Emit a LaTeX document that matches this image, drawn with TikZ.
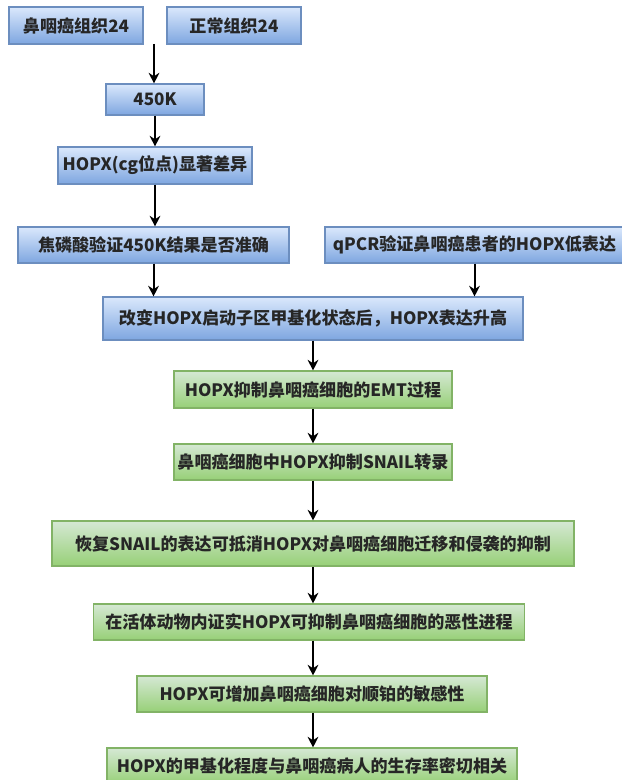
\documentclass[tikz,border=0pt]{standalone}
\usepackage{fontspec}
\setmainfont{Noto Sans CJK SC}
\usepackage{xcolor}
\usepackage{tikz}
\usetikzlibrary{positioning}
\usetikzlibrary{arrows.meta}
\definecolor{bluetop}{HTML}{DAE8FC}
\definecolor{bluebot}{HTML}{7EA6E0}
\definecolor{blueline}{HTML}{6C8EBF}
\definecolor{greentop}{HTML}{D5E8D4}
\definecolor{greenbot}{HTML}{97D077}
\definecolor{greenline}{HTML}{82B366}
\tikzset{
	box/.style={
			inner sep=0pt,
			line width=0.8pt,
			text=black!85,
			font=\fontsize{12.8}{14}\selectfont\bfseries
		},
	bluebox/.style={box,
			draw=blueline,
			top color=bluetop,
			bottom color=bluebot
		},
	greenbox/.style={box,
			draw=greenline,
			top color=greentop,
			bottom color=greenbot
		},
	flow/.style={-{Stealth[length=8pt,width=8pt]}, line width=1.5pt}
}

\begin{document}
\begin{tikzpicture}[x=0.75pt, y=-0.75pt]
		\useasboundingbox (0,0) rectangle (621,780);

		% Samples
		\node[bluebox,
			minimum width=100.5pt,
			minimum height=27.75pt
		] (tumor) at (76,25.5) {鼻咽癌组织24};

		\node[bluebox,
			minimum width=100.5pt,
			minimum height=27.75pt
		] (normal) at (234,25.5) {正常组织24};

		\coordinate (merge) at (154,44);

		% 450K
		\node[bluebox,
			minimum width=73.5pt,
			minimum height=23.25pt
		] (chip) at (155,99.5) {450K};

		\node[bluebox,
			minimum width=145.5pt,
			minimum height=27.75pt
		] (diff) at (155,165.5) {HOPX(cg位点)显著差异};

		% Validation
		\node[bluebox,
			minimum width=203.25pt,
			minimum height=27pt
		] (pyro) at (153.5,245) {焦磷酸验证450K结果是否准确};

		\node[bluebox,
			minimum width=224.25pt,
			minimum height=27pt
		] (qpcr) at (474.5,245) {qPCR验证鼻咽癌患者的HOPX低表达};

		\node[bluebox,
			minimum width=315pt,
			minimum height=32.25pt
		] (change) at (313,318.5) {改变HOPX启动子区甲基化状态后，HOPX表达升高};

		% Function
		\node[greenbox,
			minimum width=208.5pt,
			minimum height=27.75pt
		] (emt) at (313,389.5) {HOPX抑制鼻咽癌细胞的EMT过程};

		\node[greenbox,
			minimum width=208.5pt,
			minimum height=27pt
		] (snail) at (313,462) {鼻咽癌细胞中HOPX抑制SNAIL转录};

		\node[greenbox,
			minimum width=391.5pt,
			minimum height=33.75pt
		] (restore) at (313,543.5) {恢复SNAIL的表达可抵消HOPX对鼻咽癌细胞迁移和侵袭的抑制};

		\node[greenbox,
			minimum width=323.25pt,
			minimum height=27pt
		] (vivo) at (309,622) {在活体动物内证实HOPX可抑制鼻咽癌细胞的恶性进程};

		\node[greenbox,
			minimum width=262.5pt,
			minimum height=27pt
		] (cis) at (312,694) {HOPX可增加鼻咽癌细胞对顺铂的敏感性};

		\node[greenbox,
			minimum width=307.5pt,
			minimum height=27pt
		] (surv) at (312,766) {HOPX的甲基化程度与鼻咽癌病人的生存率密切相关};

		% Arrows
		\draw[flow] (merge) -- (merge |- chip.north);
		\draw[flow] (chip.south) -- (chip.south |- diff.north);
		\draw[flow] (diff.south) -- (diff.south |- pyro.north);
		\draw[flow] (pyro.south) -- (pyro.south |- change.north);
		\draw[flow] (qpcr.south) -- (qpcr.south |- change.north);
		\draw[flow] (change.south) -- (change.south |- emt.north);
		\draw[flow] (emt.south) -- (emt.south |- snail.north);
		\draw[flow] (snail.south) -- (snail.south |- restore.north);
		\draw[flow] (restore.south) -- (restore.south |- vivo.north);
		\draw[flow] (restore.south |- vivo.south) -- (restore.south |- cis.north);
		\draw[flow] (restore.south |- cis.south) -- (restore.south |- surv.north);
	\end{tikzpicture}
\end{document}
